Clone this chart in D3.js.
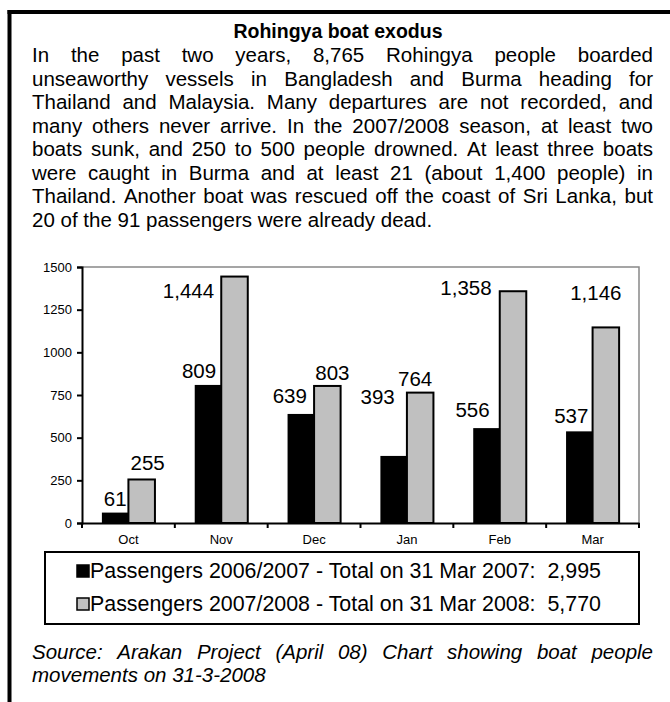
<!DOCTYPE html>
<html>
<head>
<meta charset="utf-8">
<script src="https://cdn.jsdelivr.net/npm/d3@7"></script>
<style>
  html, body { margin: 0; padding: 0; background: #fff; }
  svg { display: block; font-family: "Liberation Sans", Arial, sans-serif; }
</style>
</head>
<body>
<svg id="chart" width="670" height="702"></svg>
<script>
const title = 'Rohingya boat exodus'
const introLines = [
  'In the past two years, 8,765 Rohingya people boarded',
  'unseaworthy vessels in Bangladesh and Burma heading for',
  'Thailand and Malaysia. Many departures are not recorded, and',
  'many others never arrive. In the 2007/2008 season, at least two',
  'boats sunk, and 250 to 500 people drowned. At least three boats',
  'were caught in Burma and at least 21 (about 1,400 people) in',
  'Thailand. Another boat was rescued off the coast of Sri Lanka, but',
  '20 of the 91 passengers were already dead.'
]
const sourceLines = [
  'Source: Arakan Project (April 08) Chart showing boat people',
  'movements on 31-3-2008'
]

const months = ['Oct', 'Nov', 'Dec', 'Jan', 'Feb', 'Mar']
const passengers0607 = [61, 809, 639, 393, 556, 537]
const passengers0708 = [255, 1444, 803, 764, 1358, 1146]
const yTicks = [0, 250, 500, 750, 1000, 1250, 1500]
const seriesNames = [
  'Passengers 2006/2007 - Total on 31 Mar 2007:  2,995',
  'Passengers 2007/2008 - Total on 31 Mar 2008:  5,770'
]
const seriesColors = ['#000000', '#c0c0c0']

// label nudges relative to the bar top centre (Excel labels were hand-placed)
const nudge0607 = [[0, -7], [-9, -7], [-11, -11], [-16, -52], [-14, -11], [-8, -8]]
const nudge0708 = [[6, -9], [-46, 21], [5, -6], [-5, -7], [-47, 4], [-10, -27]]

const svg = d3.select('#chart')
const font = '"Liberation Sans", Arial, sans-serif'
const textLeft = 32
const textRight = 653
const bodySize = 20.5

// outer frame: only top and left edges show
svg.append('line').attr('x1', 7.5).attr('x2', 670).attr('y1', 12).attr('y2', 12)
  .attr('stroke', '#000').attr('stroke-width', 4)
svg.append('line').attr('x1', 9.5).attr('x2', 9.5).attr('y1', 10).attr('y2', 702)
  .attr('stroke', '#000').attr('stroke-width', 4)

svg.append('text')
  .attr('x', 338).attr('y', 38)
  .attr('text-anchor', 'middle')
  .attr('font-weight', 'bold').attr('font-size', 19.5)
  .text(title)

// justified paragraph: lay the words out one by one
function justify(lines, y0, lineH, style) {
  lines.forEach((line, i) => {
    const words = line.split(' ')
    const yy = y0 + i * lineH
    const sel = words.map(w => {
      const t = svg.append('text').attr('y', yy).attr('font-size', bodySize).text(w)
      if (style) t.attr('font-style', style)
      return t
    })
    const widths = sel.map(t => t.node().getComputedTextLength())
    const total = d3.sum(widths)
    const last = i === lines.length - 1
    const gap = last ? bodySize * 0.278 : (textRight - textLeft - total) / (words.length - 1)
    let x = textLeft
    sel.forEach((t, j) => {
      t.attr('x', x)
      x += widths[j] + gap
    })
  })
}
justify(introLines, 62, 23.5, null)

// chart
const plot = { left: 82, right: 639, top: 267, bottom: 523 }
const x = d3.scaleBand().domain(months).range([plot.left, plot.right])
const xInner = d3.scaleBand().domain([0, 1]).range([0, x.bandwidth()]).paddingOuter(0.75)
const y = d3.scaleLinear().domain([0, 1500]).range([plot.bottom, plot.top])

svg.append('path')
  .attr('d', `M${plot.left},${plot.top}H${plot.right}V${plot.bottom}`)
  .attr('fill', 'none').attr('stroke', '#888').attr('stroke-width', 1.5)

const series = [passengers0607, passengers0708]
const nudges = [nudge0607, nudge0708]
series.forEach((vals, s) => {
  svg.append('g').selectAll('rect').data(vals).join('rect')
    .attr('x', (d, i) => x(months[i]) + xInner(s))
    .attr('width', xInner.bandwidth())
    .attr('y', d => y(d))
    .attr('height', d => y(0) - y(d))
    .attr('fill', seriesColors[s])
    .attr('stroke', '#000').attr('stroke-width', s ? 2 : 0)

  svg.append('g').selectAll('text').data(vals).join('text')
    .attr('x', (d, i) => x(months[i]) + xInner(s) + xInner.bandwidth() / 2 + nudges[s][i][0])
    .attr('y', (d, i) => y(d) + nudges[s][i][1])
    .attr('text-anchor', 'middle').attr('font-size', 20.5)
    .text(d => d3.format(',')(d))
})

const yAxis = svg.append('g').attr('transform', `translate(${plot.left},0)`)
  .call(d3.axisLeft(y).tickValues(yTicks).tickSize(5).tickPadding(5).tickFormat(d3.format('d')))
yAxis.select('.domain').attr('stroke-width', 2)
yAxis.selectAll('.tick line').attr('stroke-width', 2)
yAxis.selectAll('text').attr('font-size', 13).attr('font-family', font)

const xAxis = svg.append('g').attr('transform', `translate(0,${plot.bottom})`)
  .call(d3.axisBottom(x).tickSize(0).tickPadding(12))
xAxis.select('.domain').attr('stroke-width', 2)
xAxis.selectAll('text').attr('font-size', 13).attr('font-family', font)
svg.append('g').selectAll('line').data(months.concat(['end'])).join('line')
  .attr('x1', (d, i) => plot.left + i * x.step()).attr('x2', (d, i) => plot.left + i * x.step())
  .attr('y1', plot.bottom).attr('y2', plot.bottom + 5)
  .attr('stroke', '#000').attr('stroke-width', 2)

// legend
const legend = svg.append('g')
legend.append('rect').attr('x', 45).attr('y', 552).attr('width', 594).attr('height', 72)
  .attr('fill', '#fff').attr('stroke', '#000').attr('stroke-width', 2)
seriesNames.forEach((name, s) => {
  const ly = 578 + s * 33
  legend.append('rect').attr('x', 77).attr('y', ly - 13).attr('width', 12).attr('height', 12)
    .attr('fill', seriesColors[s]).attr('stroke', '#000').attr('stroke-width', 1.5)
  legend.append('text').attr('x', 90).attr('y', ly).attr('font-size', 21.4)
    .style('white-space', 'pre').text(name)
})

justify(sourceLines, 659, 23, 'italic')
</script>
</body>
</html>
